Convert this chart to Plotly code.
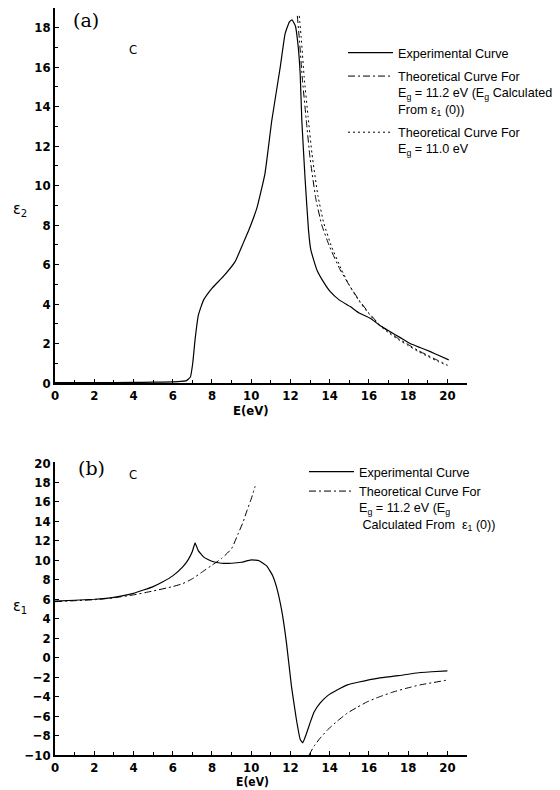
import plotly.graph_objects as go

# ---------------- data: panel (a) epsilon_2 ----------------
e2_exp_E = [0, 2, 4, 5, 6, 6.4, 6.7, 6.9, 7.02, 7.14, 7.31, 7.57, 8.0, 8.58, 9.18, 9.6, 9.9,
            10.3, 10.7, 11.05, 11.48, 11.73, 11.95, 12.08, 12.25, 12.4, 12.5, 12.58,
            12.75, 12.92, 13.04, 13.35, 13.7, 14.03, 14.5, 15.05, 15.5, 16.07, 16.58,
            17.09, 17.6, 18.1, 18.6, 19.13, 19.6, 20.07]
e2_exp_V = [0.02, 0.02, 0.03, 0.04, 0.06, 0.08, 0.12, 0.3, 1.0, 2.2, 3.45, 4.2, 4.8, 5.4, 6.15, 7.1, 7.8,
            8.9, 10.6, 13.3, 16.0, 17.7, 18.3, 18.4, 18.1, 17.0, 15.6, 13.3,
            10.3, 7.76, 6.74, 5.73, 5.1, 4.63, 4.2, 3.87, 3.55, 3.28, 2.9,
            2.6, 2.3, 2.0, 1.8, 1.59, 1.38, 1.17]

e2_th112_E = [12.35, 12.45, 12.6, 12.8, 13.0, 13.3, 13.6, 14.0, 14.5, 15.0, 15.5, 16.0, 16.5,
              17.0, 17.5, 18.0, 18.5, 19.0, 19.5, 20.0]
e2_th112_V = [18.6, 17.5, 15.5, 13.4, 11.4, 9.3, 8.0, 6.9, 5.8, 4.95, 4.2, 3.55, 3.0,
              2.6, 2.25, 1.95, 1.65, 1.4, 1.15, 0.92]

e2_th110_E = [12.45, 12.55, 12.7, 12.9, 13.1, 13.4, 13.7, 14.1, 14.6, 15.0, 15.5, 16.0, 16.5,
              17.0, 17.5, 18.0, 18.5, 19.0, 19.5, 20.0]
e2_th110_V = [18.6, 17.5, 15.5, 13.5, 11.6, 9.5, 8.1, 6.9, 5.75, 4.95, 4.15, 3.5, 2.95,
              2.55, 2.2, 1.9, 1.6, 1.35, 1.1, 0.88]

# ---------------- data: panel (b) epsilon_1 ----------------
e1_exp_E = [0, 1, 2, 3, 4, 5, 5.5, 6, 6.5, 6.8, 7.0, 7.14, 7.3, 7.6, 8.0, 8.5, 9.0, 9.5, 10.0,
            10.4, 10.8, 11.1, 11.3, 11.55, 11.8, 12.05, 12.3, 12.5, 12.63, 12.8, 13.0,
            13.2, 13.5, 13.9, 14.4, 14.9, 15.5, 16.5, 17.5, 18.3, 19.2, 20.0]
e1_exp_V = [5.8, 5.9, 6.0, 6.2, 6.6, 7.3, 7.8, 8.4, 9.3, 10.1, 10.9, 11.8, 11.0, 10.3, 9.9, 9.7, 9.7, 9.8, 10.05,
            9.95, 9.4, 8.4, 7.2, 4.9, 1.5, -2.9, -6.3, -8.4, -8.75, -7.9, -6.7,
            -5.6, -4.7, -3.9, -3.3, -2.8, -2.5, -2.1, -1.85, -1.6, -1.45, -1.35]

e1_th_lo_E = [0, 1, 2, 3, 4, 5, 6, 6.5, 7.0, 7.5, 8.0, 8.5, 9.0, 9.35, 9.6, 9.8, 10.0, 10.2]
e1_th_lo_V = [5.75, 5.85, 5.95, 6.15, 6.45, 6.85, 7.3, 7.6, 8.1, 8.8, 9.5, 10.2, 11.2, 12.8, 14.0, 15.2, 16.3, 17.6]

e1_th_hi_E = [12.95, 13.2, 13.5, 13.9, 14.4, 14.9, 15.4, 15.9, 16.5, 17.2, 17.9, 18.6, 19.3, 20.0]
e1_th_hi_V = [-10.0, -9.1, -8.3, -7.4, -6.5, -5.7, -5.1, -4.55, -4.05, -3.55, -3.15, -2.8, -2.55, -2.3]

x_ticks = list(range(0, 21, 2))
ya_ticks = list(range(0, 19, 2))
yb_ticks = list(range(-10, 21, 2))

TXT = "DejaVu Sans Condensed, Liberation Sans, sans-serif"
LEG = "Liberation Sans, Arial, sans-serif"
NUM = "DejaVu Sans Condensed, Liberation Sans, sans-serif"
SERIF = "DejaVu Serif, Liberation Serif, serif"
W, H = 560, 790

DASHDOT = "7px,3px,2px,3px"
DOTTED = "2px,3px"

fig = go.Figure()

fig.add_trace(go.Scatter(x=e2_exp_E, y=e2_exp_V, mode="lines", name="Experimental Curve",
                         line=dict(color="black", width=1.2, shape="spline", smoothing=0.4),
                         xaxis="x", yaxis="y", legend="legend", legendgroup="a1"))
fig.add_trace(go.Scatter(x=e2_th112_E, y=e2_th112_V, mode="lines",
                         name="Theoretical Curve For<br>E<sub>g</sub> = 11.2 eV (E<sub>g</sub> Calculated<br>From ε<sub>1</sub> (0))",
                         line=dict(color="black", width=1.0, dash=DASHDOT, shape="spline", smoothing=0.4),
                         xaxis="x", yaxis="y", legend="legend", legendgroup="a2"))
fig.add_trace(go.Scatter(x=e2_th110_E, y=e2_th110_V, mode="lines",
                         name="Theoretical Curve For<br>E<sub>g</sub> = 11.0 eV",
                         line=dict(color="black", width=1.0, dash=DOTTED, shape="spline", smoothing=0.4),
                         xaxis="x", yaxis="y", legend="legend", legendgroup="a3"))

fig.add_trace(go.Scatter(x=e1_exp_E, y=e1_exp_V, mode="lines", name="Experimental Curve",
                         line=dict(color="black", width=1.2, shape="spline", smoothing=0.3),
                         xaxis="x2", yaxis="y2", legend="legend2"))
fig.add_trace(go.Scatter(x=e1_th_lo_E, y=e1_th_lo_V, mode="lines",
                         name="Theoretical Curve For<br>E<sub>g</sub> = 11.2 eV (E<sub>g</sub><br> Calculated From  ε<sub>1</sub> (0))",
                         line=dict(color="black", width=1.0, dash=DASHDOT, shape="spline", smoothing=0.4),
                         xaxis="x2", yaxis="y2", legend="legend2"))
fig.add_trace(go.Scatter(x=e1_th_hi_E, y=e1_th_hi_V, mode="lines", showlegend=False,
                         line=dict(color="black", width=1.0, dash=DASHDOT, shape="spline", smoothing=0.4),
                         xaxis="x2", yaxis="y2", legend="legend2"))

x_dom = [55 / W, 467 / W]
axis_common = dict(showline=True, linecolor="black", linewidth=1.5, showgrid=False, zeroline=False,
                   ticks="inside", ticklen=4, tickwidth=1.2, tickcolor="black", automargin=False,
                   tickfont=dict(family=NUM, size=13, color="black", weight="bold"))
minor_x = dict(dtick=1, ticks="inside", ticklen=3, tickcolor="black", showgrid=False)

fig.update_layout(
    width=W, height=H,
    margin=dict(l=0, r=0, t=0, b=0, autoexpand=False),
    paper_bgcolor="white", plot_bgcolor="white",
    font=dict(family=TXT, color="black"),
    xaxis=dict(domain=x_dom, range=[0, 21], tickvals=x_ticks, anchor="y", minor=minor_x, **axis_common),
    yaxis=dict(domain=[(H - 383) / H, (H - 8) / H], range=[0, 19], tickvals=ya_ticks, anchor="x",
               minor=minor_x, **axis_common),
    xaxis2=dict(domain=x_dom, range=[0, 21], tickvals=x_ticks, anchor="y2", minor=minor_x, **axis_common),
    yaxis2=dict(domain=[(H - 755) / H, (H - 462) / H], range=[-10, 20.1], tickvals=yb_ticks, anchor="x2",
                **axis_common),
    legend=dict(x=343 / W, y=1 - 38 / H, xanchor="left", yanchor="top", bgcolor="rgba(0,0,0,0)",
                font=dict(family=LEG, size=12.6, color="black"), itemwidth=45, valign="top",
                tracegroupgap=4, itemclick=False),
    legend2=dict(x=304 / W, y=1 - 457 / H, xanchor="left", yanchor="top", bgcolor="rgba(0,0,0,0)",
                 font=dict(family=LEG, size=12.6, color="black"), itemwidth=45, valign="top",
                 tracegroupgap=0, itemclick=False),
)

ann = [
    dict(text="(a)", x=86 / W, y=1 - 20 / H, font=dict(family=SERIF, size=19), yanchor="middle"),
    dict(text="C", x=133 / W, y=1 - 49 / H, font=dict(family=TXT, size=13), yanchor="middle"),
    dict(text="ε<sub>2</sub>", x=20 / W, y=1 - 210 / H, font=dict(family=TXT, size=16), yanchor="middle"),
    dict(text="E(eV)", x=251 / W, y=1 - 410 / H, font=dict(family=TXT, size=13, weight="bold"), yanchor="middle"),
    dict(text="(b)", x=91 / W, y=1 - 468 / H, font=dict(family=SERIF, size=19), yanchor="middle"),
    dict(text="C", x=133 / W, y=1 - 474 / H, font=dict(family=TXT, size=13), yanchor="middle"),
    dict(text="ε<sub>1</sub>", x=20 / W, y=1 - 606 / H, font=dict(family=TXT, size=16), yanchor="middle"),
    dict(text="E(eV)", x=252 / W, y=1 - 782 / H, font=dict(family=TXT, size=12, weight="bold"), yanchor="middle"),
]
for a in ann:
    fig.add_annotation(xref="paper", yref="paper", showarrow=False, xanchor="center", borderpad=0, **a)

# remove the browser's default page margin so the figure sits at the window's top-left corner
fig.write_html("out.html", config={"displayModeBar": False},
               post_script="document.body.style.margin='0';document.body.style.overflow='hidden';")
